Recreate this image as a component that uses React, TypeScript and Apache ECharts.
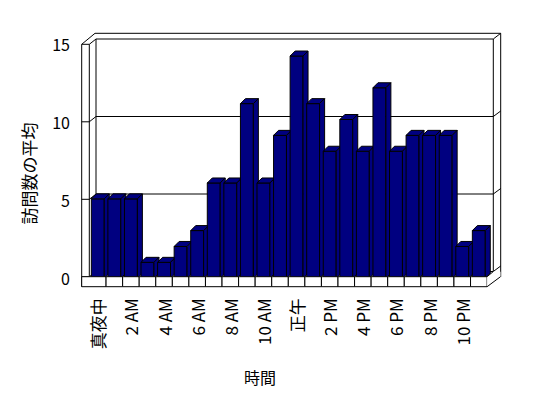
import React, { useEffect, useRef } from 'react';
import * as echarts from 'echarts';

const categories = ['真夜中', '1 AM', '2 AM', '3 AM', '4 AM', '5 AM', '6 AM', '7 AM', '8 AM', '9 AM', '10 AM', '11 AM',
  '正午', '1 PM', '2 PM', '3 PM', '4 PM', '5 PM', '6 PM', '7 PM', '8 PM', '9 PM', '10 PM', '11 PM'];
const visits = [5, 5, 5, 1, 1, 2, 3, 6, 6, 11, 6, 9, 14, 11, 8, 10, 8, 12, 8, 9, 9, 9, 2, 3];
const yTicks = [0, 5, 10, 15];
const yAxisName = '訪問数の平均';
const xAxisName = '時間';

const NAVY = '#000080';
const FONT = '"Noto Sans CJK JP", "Noto Sans", sans-serif';
const LS = { stroke: '#000', lineWidth: 1, fill: null };

const ln = (x1: number, y1: number, x2: number, y2: number) => ({
  type: 'line', shape: { x1, y1, x2, y2 }, style: { ...LS },
});
const pl = (points: number[][]) => ({ type: 'polyline', shape: { points }, style: { ...LS } });

export default function App() {
  const ref = useRef<HTMLDivElement>(null);
  useEffect(() => {
    const chart = echarts.init(ref.current!, null, { renderer: 'svg' });

    const frameItem = (params: any, api: any) => {
      const v = api.value(1);
      const [lx, yb] = api.coord([0, v]);
      const [rx] = api.coord([1, v]);
      const [, yTop] = api.coord([0, 15]);
      const [, yZero] = api.coord([0, 0]);
      const dy = 5.3;
      const yf = yb + dy;
      const fx0 = lx - 14.3;
      const fx1 = lx - 6.7;
      const ox = rx + 7.4;
      const floorTop = yZero + dy;
      const children: any[] = [];
      if (v === 15) {
        children.push(pl([[fx0, yf], [lx - 1, yb - 5.7], [ox, yb - 5.7]]));
        children.push(ln(fx0, yf, fx1, yf));
        children.push(pl([[fx1, yf], [lx, yb], [rx, yb]]));
        children.push(ln(rx, yb, ox, yb - 5.7));
      } else {
        children.push(ln(fx0, yf, fx1, yf));
        children.push(ln(fx1, yf, lx, yb));
        children.push(ln(lx, yb, rx, yb));
        children.push(ln(rx, yb, ox, yb - 5.5));
      }
      if (v === 0) {
        children.push(ln(fx0, yTop + dy, fx0, floorTop + 10));
        children.push(ln(fx1, yTop + dy, fx1, floorTop));
        children.push(ln(lx, yTop, lx, floorTop));
        children.push(ln(rx, yTop, rx, floorTop - 5));
        children.push(ln(ox, yTop - 5.7, ox, floorTop));
      }
      return { type: 'group', children };
    };

    const barItem = (params: any, api: any) => {
      const i = api.value(0);
      const [cx, yTop] = api.coord([i, api.value(1)]);
      const [, base] = api.coord([i, 0]);
      const band = api.size([1, 0])[0];
      const w = band * 0.78;
      const x0 = cx - w / 2;
      const d = 5;
      const st = { fill: NAVY, stroke: '#000', lineWidth: 1 };
      return {
        type: 'group',
        children: [
          { type: 'rect', shape: { x: x0, y: yTop, width: w, height: base - yTop }, style: st },
          { type: 'polygon', shape: { points: [[x0, yTop], [x0 + d, yTop - d], [x0 + w + d, yTop - d], [x0 + w, yTop]] }, style: st },
          { type: 'polygon', shape: { points: [[x0 + w, yTop], [x0 + w + d, yTop - d], [x0 + w + d, base - d], [x0 + w, base]] }, style: st },
        ],
      };
    };

    const floorItem = (params: any, api: any) => {
      const i = api.value(0);
      const [cx, base] = api.coord([i, 0]);
      const band = api.size([1, 0])[0];
      const top = base - 1.5;
      const bottom = top + 10;
      let x0 = cx - band / 2;
      const x1 = cx + band / 2;
      if (i === 0) x0 -= 7.8;
      const children: any[] = [
        { type: 'rect', shape: { x: x0, y: top, width: x1 - x0, height: bottom - top }, style: { fill: '#fff', stroke: '#000', lineWidth: 1 } },
      ];
      if (i === categories.length - 1) {
        children.push({
          type: 'polygon',
          shape: { points: [[x1, top], [x1, bottom], [x1 + 13.4, top], [x1 + 13.4, top - 5], [x1 + 6, top - 5]] },
          style: { fill: '#fff', stroke: null },
        });
        children.push(ln(x1, bottom, x1 + 13.4, top));
        children.push(ln(x1, top, x1 + 6, top - 5));
      }
      return { type: 'group', children };
    };

    chart.setOption({
      animation: false,
      backgroundColor: '#fff',
      grid: [
        { left: 89.5, top: 40.15, width: 397.6, height: 238.05 },
        { left: 96, top: 39, width: 397.3, height: 232.5 },
        { left: 81.7, top: 44.3, width: 406, height: 233.4 },
      ],
      xAxis: [
        {
          gridIndex: 0, type: 'category', data: categories,
          axisLine: { show: false }, axisTick: { show: false },
          axisLabel: { interval: 1, rotate: 90, margin: 20, fontSize: 17, color: '#000', fontFamily: FONT },
        },
        { gridIndex: 1, type: 'value', min: 0, max: 1, show: false },
        { gridIndex: 2, type: 'value', min: 0, max: 1, show: false },
      ],
      yAxis: [
        { gridIndex: 0, type: 'value', min: 0, max: 15, show: false },
        { gridIndex: 1, type: 'value', min: 0, max: 15, show: false },
        {
          gridIndex: 2, type: 'value', min: 0, max: 15, interval: 5,
          axisLine: { show: false }, axisTick: { show: false }, splitLine: { show: false },
          axisLabel: { margin: 11.7, fontSize: 16, color: '#000', fontFamily: FONT },
        },
      ],
      graphic: [
        {
          type: 'text', x: 28.3, y: 173.5, rotation: Math.PI / 2,
          style: { text: yAxisName, fontSize: 17, fontFamily: FONT, fill: '#000', align: 'center', verticalAlign: 'middle' },
        },
        {
          type: 'text', x: 260, y: 377.3,
          style: { text: xAxisName, fontSize: 16, fontFamily: FONT, fill: '#000', align: 'center', verticalAlign: 'middle' },
        },
      ],
      series: [
        {
          type: 'custom', name: 'frame', xAxisIndex: 1, yAxisIndex: 1, z: 1,
          data: yTicks.map((v) => [0, v]), renderItem: frameItem, silent: true,
        },
        {
          type: 'custom', name: 'bars', xAxisIndex: 0, yAxisIndex: 0, z: 3,
          data: visits.map((v, i) => [i, v]), renderItem: barItem,
        },
        {
          type: 'custom', name: 'floor', xAxisIndex: 0, yAxisIndex: 0, z: 4,
          data: categories.map((c, i) => [i, 0]), renderItem: floorItem, silent: true,
        },
      ],
    });
    return () => chart.dispose();
  }, []);
  return <div ref={ref} style={{ position: 'fixed', left: 0, top: 0, width: 548, height: 398 }} />;
}
